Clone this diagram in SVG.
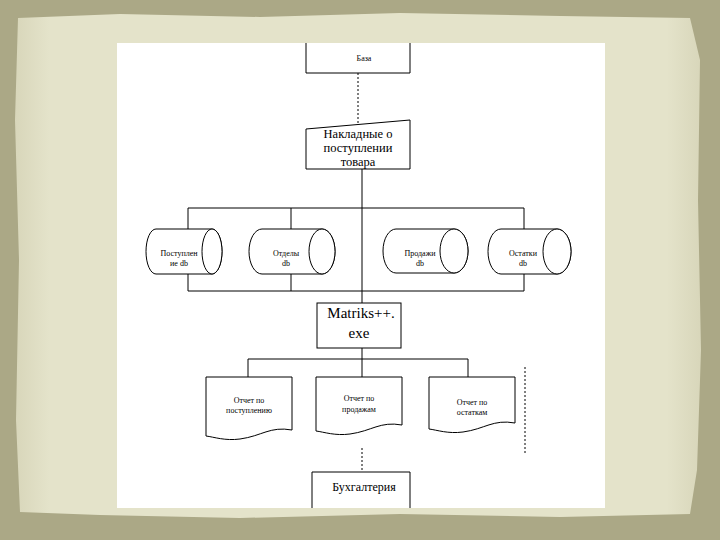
<svg xmlns="http://www.w3.org/2000/svg" width="720" height="540" viewBox="0 0 720 540">
<style>
.s{fill:#fff;stroke:#000;stroke-width:1}
.l{fill:none;stroke:#000;stroke-width:1}
.d{fill:none;stroke:#000;stroke-width:1;stroke-dasharray:2 2}
.t{font-family:"Liberation Serif","Times New Roman",serif;fill:#000;text-anchor:middle}
.sm{font-size:8px}
.md{font-size:12px}
.lg{font-size:12.5px}
.xl{font-size:15px}
</style>
<defs>
<linearGradient id="pg" x1="0" y1="0" x2="1" y2="0">
<stop offset="0" stop-color="#d8d6ba"/>
<stop offset="0.05" stop-color="#e4e3ca"/>
<stop offset="0.95" stop-color="#e4e3ca"/>
<stop offset="1" stop-color="#d8d6ba"/>
</linearGradient>
</defs>
<rect x="0" y="0" width="720" height="540" fill="#aba886"/>
<path d="M18,18 L120,14 L260,17 L400,13 L560,16 L690,18 L700,60 L698,200 L701,350 L697,470 L690,514 L560,517 L400,514 L240,518 L100,515 L20,512 L16,420 L19,260 L15,120 Z" fill="url(#pg)"/>
<rect x="117" y="43" width="488" height="465" fill="#fff"/>

<g id="connectors">
<line class="d" x1="358" y1="73" x2="358" y2="123"/>
<line class="l" x1="362" y1="169" x2="362" y2="303"/>
<line class="l" x1="188" y1="208" x2="524" y2="208"/>
<line class="l" x1="188" y1="291" x2="524" y2="291"/>
<line class="l" x1="188" y1="208" x2="188" y2="229"/>
<line class="l" x1="188" y1="274" x2="188" y2="291"/>
<line class="l" x1="291" y1="208" x2="291" y2="229"/>
<line class="l" x1="291" y1="274" x2="291" y2="291"/>
<line class="l" x1="524" y1="208" x2="524" y2="229"/>
<line class="l" x1="524" y1="274" x2="524" y2="291"/>
<line class="l" x1="362" y1="348" x2="362" y2="377"/>
<line class="l" x1="248" y1="359" x2="468" y2="359"/>
<line class="l" x1="248" y1="359" x2="248" y2="377"/>
<line class="l" x1="468" y1="359" x2="468" y2="377"/>
<line class="d" x1="362" y1="448" x2="362" y2="472"/>
<line class="d" x1="525" y1="367" x2="525" y2="455"/>
</g>

<g id="baza">
<polyline class="l" points="306,43 306,73 410,73 410,43"/>
<text class="t sm" x="364" y="61">База</text>
</g>

<g id="nakladnye">
<path class="s" d="M306,129 L410,120 L410,169 L306,169 Z"/>
<text class="t lg" x="358" y="138">Накладные о</text>
<text class="t lg" x="358" y="152">поступлении</text>
<text class="t lg" x="358" y="166">товара</text>
</g>

<g id="cyl1">
<path class="s" d="M156,229 L212,229 A10,22.5 0 0 1 212,274 L156,274 A10,22.5 0 0 1 156,229 Z"/>
<ellipse class="s" cx="212" cy="251.5" rx="10" ry="22.5"/>
<text class="t sm" x="179" y="256">Поступлен</text>
<text class="t sm" x="179" y="266">ие db</text>
</g>

<g id="cyl2">
<path class="s" d="M262,229 L322,229 A13,22.5 0 0 1 322,274 L262,274 A13,22.5 0 0 1 262,229 Z"/>
<ellipse class="s" cx="322" cy="251.5" rx="13" ry="22.5"/>
<text class="t sm" x="286" y="256">Отделы</text>
<text class="t sm" x="286" y="266">db</text>
</g>

<g id="cyl3">
<path class="s" d="M396,229 L454,229 A14,22 0 0 1 454,273 L396,273 A13,22 0 0 1 396,229 Z"/>
<ellipse class="s" cx="454" cy="251" rx="14" ry="22"/>
<text class="t sm" x="420" y="256">Продажи</text>
<text class="t sm" x="420" y="266">db</text>
</g>

<g id="cyl4">
<path class="s" d="M501,229 L557,229 A14,22.5 0 0 1 557,274 L501,274 A13,22.5 0 0 1 501,229 Z"/>
<ellipse class="s" cx="557" cy="251.5" rx="14" ry="22.5"/>
<text class="t sm" x="523" y="256">Остатки</text>
<text class="t sm" x="523" y="266">db</text>
</g>

<g id="matriks">
<rect class="s" x="317" y="303" width="84" height="45"/>
<text class="t xl" x="361" y="318">Matriks++.</text>
<text class="t xl" x="359" y="338">exe</text>
</g>

<g id="rep1">
<path class="s" d="M206,377 L292,377 L292,430 C270,426 262,436 240,439 C225,441 214,437 206,436 Z"/>
<text class="t sm" x="249" y="403">Отчет по</text>
<text class="t sm" x="249" y="413">поступлению</text>
</g>

<g id="rep2">
<path class="s" d="M316,377 L402,377 L402,425 C380,421 372,431 350,434 C335,436 324,432 316,431 Z"/>
<text class="t sm" x="359" y="401">Отчет по</text>
<text class="t sm" x="359" y="412">продажам</text>
</g>

<g id="rep3">
<path class="s" d="M429,377 L515,377 L515,423 C493,419 485,429 463,432 C448,434 437,430 429,429 Z"/>
<text class="t sm" x="472" y="405">Отчет по</text>
<text class="t sm" x="472" y="415">остаткам</text>
</g>

<g id="buh">
<polyline class="l" points="312,508 312,472 410,472 410,508"/>
<text class="t md" x="364" y="491">Бухгалтерия</text>
</g>
</svg>
